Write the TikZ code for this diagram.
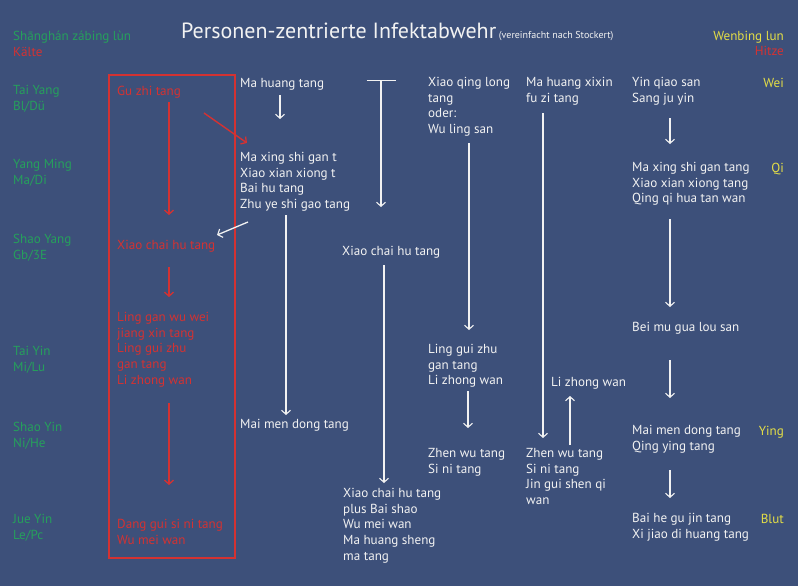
\documentclass[tikz,border=0pt]{standalone}
\usepackage{fontspec}
\setmainfont{PT Sans}
\usetikzlibrary{arrows.meta}
\definecolor{bg}{RGB}{61,80,122}
\definecolor{wt}{RGB}{242,242,242}
\definecolor{gn}{RGB}{38,160,92}
\definecolor{rd}{RGB}{212,50,50}
\definecolor{yl}{RGB}{228,222,70}
\begin{document}
\begin{tikzpicture}[x=1pt,y=-1pt,
  txt/.style={anchor=north west,inner sep=0pt,align=left,
    font=\fontsize{13.1}{15.7}\selectfont,text=wt,
    execute at begin node=\rule{0pt}{10pt}},
  rtxt/.style={txt,anchor=north east,align=right},
  grn/.style={txt,text=gn},
  red/.style={txt,text=rd},
  yel/.style={rtxt,text=yl},
  warr/.style={draw=wt,line width=1.3pt,-{Straight Barb[length=4pt,width=9pt,line width=1.1pt]}},
  rarr/.style={draw=rd,line width=1.4pt,-{Straight Barb[length=4pt,width=9pt,line width=1.3pt]}},
  redbox/.style={draw=rd,line width=1.5pt}]
\fill[bg] (0,0) rectangle (798,586);
\useasboundingbox (0,0) rectangle (798,586);

% title
\node[anchor=base west,inner sep=0pt,text=wt] (title) at (181,39)
  {{\fontsize{22}{26}\selectfont Personen-zentrierte Infektabwehr} {\fontsize{10}{12}\selectfont (vereinfacht nach Stockert)}};

% left headers
\node[grn] (shz) at (13,30) {Shānghán zábing lùn};
\node[red] (kaelte) at (13,46) {Kälte};
\node[grn] (taiyang) at (13,85) {Tai Yang\\Bl/Dü};
\node[grn] (yangming) at (13,159) {Yang Ming\\Ma/Di};
\node[grn] (shaoyang) at (13,234) {Shao Yang\\Gb/3E};
\node[grn] (taiyin) at (13,346) {Tai Yin\\Mi/Lu};
\node[grn] (shaoyin) at (13,422) {Shao Yin\\Ni/He};
\node[grn] (jueyin) at (13,514) {Jue Yin\\Le/Pc};

% right headers
\node[yel] (wenbing) at (784,30) {Wenbing lun};
\node[rtxt,text=rd] (hitze) at (784,45) {Hitze};
\node[yel] (wei) at (784,77) {Wei};
\node[yel] (qi) at (784,162) {Qi};
\node[yel] (ying) at (784,425) {Ying};
\node[yel] (blut) at (784,513) {Blut};

% red box column
\draw[redbox] (109,75) rectangle (235,558);
\node[red] (gu) at (117,85) {Gu zhi tang};
\node[red] (xchr) at (117,239) {Xiao chai hu tang};
\node[red] (ling) at (117,312) {Ling gan wu wei\\jiang xin tang\\Ling gui zhu\\gan tang\\Li zhong wan};
\node[red] (dang) at (117,519) {Dang gui si ni tang\\Wu mei wan};

% white column 1
\node[txt] (mht) at (240,77) {Ma huang tang};
\node[txt] (mxs) at (240,152) {Ma xing shi gan t\\Xiao xian xiong t\\Bai hu tang\\Zhu ye shi gao tang};
\node[txt] (mmd) at (240,418) {Mai men dong tang};

% white column 2
\node[txt] (xchw) at (342,245) {Xiao chai hu tang};
\node[txt] (xchp) at (343,488) {Xiao chai hu tang\\plus Bai shao\\Wu mei wan\\Ma huang sheng\\ma tang};

% column 3
\node[txt] (xql) at (428,77) {Xiao qing long\\tang\\oder:\\Wu ling san};
\node[txt] (lgz) at (428,344) {Ling gui zhu\\gan tang\\Li zhong wan};
\node[txt] (zwt1) at (428,448) {Zhen wu tang\\Si ni tang};

% column 4
\node[txt] (mhx) at (526,77) {Ma huang xixin\\fu zi tang};
\node[txt] (lzw) at (551,376) {Li zhong wan};
\node[txt] (zwt2) at (526,448) {Zhen wu tang\\Si ni tang\\Jin gui shen qi\\wan};

% column 5
\node[txt] (yqs) at (632,77) {Yin qiao san\\Sang ju yin};
\node[txt] (mxs2) at (632,162) {Ma xing shi gan tang\\Xiao xian xiong tang\\Qing qi hua tan wan};
\node[txt] (bmg) at (632,321) {Bei mu gua lou san};
\node[txt] (mmd2) at (632,425) {Mai men dong tang\\Qing ying tang};
\node[txt] (bhg) at (632,513) {Bai he gu jin tang\\Xi jiao di huang tang};

% arrow endpoints
\coordinate (r1a) at (169,102); \coordinate (r1b) at (169,215);
\coordinate (r2a) at (204,113); \coordinate (r2b) at (247,143);
\coordinate (r3a) at (169,267); \coordinate (r3b) at (169,297);
\coordinate (r4a) at (169,403); \coordinate (r4b) at (169,485);
\coordinate (w1a) at (280,95);  \coordinate (w1b) at (280,119);
\coordinate (w2a) at (248,222); \coordinate (w2b) at (217,235);
\coordinate (w3a) at (286,215); \coordinate (w3b) at (286,415);
\coordinate (tba) at (381,80);  \coordinate (tbb) at (381,207);
\coordinate (w4a) at (384,265); \coordinate (w4b) at (384,483);
\coordinate (w5a) at (469,143); \coordinate (w5b) at (469,330);
\coordinate (w6a) at (468,391); \coordinate (w6b) at (468,428);
\coordinate (w7a) at (543,113); \coordinate (w7b) at (543,438);
\coordinate (w8a) at (570,445); \coordinate (w8b) at (570,396);
\coordinate (w9a) at (670,118); \coordinate (w9b) at (670,144);
\coordinate (w10a) at (670,219); \coordinate (w10b) at (670,307);
\coordinate (w11a) at (670,360); \coordinate (w11b) at (670,398);
\coordinate (w12a) at (670,470); \coordinate (w12b) at (670,498);

% red arrows
\draw[rarr] (r1a) -- (r1b);
\draw[rarr] (r2a) -- (r2b);
\draw[rarr] (r3a) -- (r3b);
\draw[rarr] (r4a) -- (r4b);

% white arrows
\draw[warr] (w1a) -- (w1b);
\draw[warr] (w2a) -- (w2b);
\draw[warr] (w3a) -- (w3b);
\draw[warr,{Bar[width=29pt,line width=1.2pt]}-{Straight Barb[length=4pt,width=9pt,line width=1.1pt]}] (tba) -- (tbb);
\draw[warr] (w4a) -- (w4b);
\draw[warr] (w5a) -- (w5b);
\draw[warr] (w6a) -- (w6b);
\draw[warr] (w7a) -- (w7b);
\draw[warr] (w8a) -- (w8b);
\draw[warr] (w9a) -- (w9b);
\draw[warr] (w10a) -- (w10b);
\draw[warr] (w11a) -- (w11b);
\draw[warr] (w12a) -- (w12b);
\end{tikzpicture}
\end{document}
